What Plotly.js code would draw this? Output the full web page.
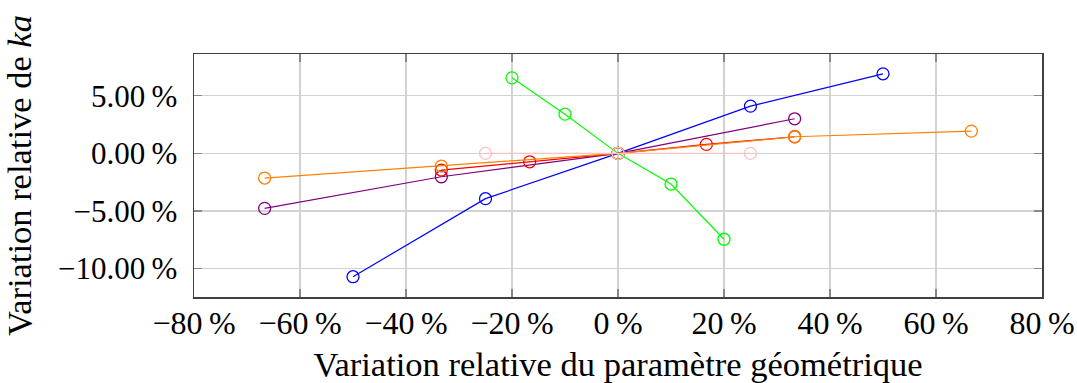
<!DOCTYPE html>
<html>
<head>
<meta charset="utf-8">
<script src="https://cdn.plot.ly/plotly-3.0.1.min.js"></script>
<style>html,body{margin:0;padding:0;background:#fff;}#chart{width:1077px;height:383px;}</style>
</head>
<body>
<div id="chart"></div>
<script>
// Data (percent)
const blueX   = [-50, -25, 0, 25, 50];
const blueY   = [-10.7, -3.93, 0, 4.10, 6.90];
const purpleX = [-66.67, -33.33, 0, 33.33];
const purpleY = [-4.77, -2.03, 0, 3.0];
const greenX  = [-20, -10, 0, 10, 20];
const greenY  = [6.55, 3.4, 0, -2.66, -7.45];
const redX    = [-33.33, -16.67, 0, 16.67, 33.33];
const redY    = [-1.45, -0.73, 0, 0.78, 1.44];
const orangeX = [-66.67, -33.33, 0, 33.33, 66.67];
const orangeY = [-2.14, -1.10, 0, 1.44, 1.93];
const pinkX   = [-25, 0, 25];
const pinkY   = [0.0, 0, 0.0];

const xTickVals = [-80, -60, -40, -20, 0, 20, 40, 60, 80];
const xTickText = ['\u221280\u2009%', '\u221260\u2009%', '\u221240\u2009%', '\u221220\u2009%', '0\u2009%', '20\u2009%', '40\u2009%', '60\u2009%', '80\u2009%'];
const yTickVals = [5, 0, -5, -10];
const yTickText = ['5.00\u2009%', '0.00\u2009%', '\u22125.00\u2009%', '\u221210.00\u2009%'];

const xTitle = 'Variation relative du paramètre géométrique';
const yTitle = 'Variation relative de <i>ka</i>';

function series(x, y, color) {
  return {
    x: x, y: y, type: 'scatter', mode: 'lines+markers',
    line: {color: color, width: 1.2},
    marker: {symbol: 'circle-open', size: 12, color: color, line: {color: color, width: 1.3}},
    showlegend: false, hoverinfo: 'skip'
  };
}

const data = [
  series(blueX, blueY, '#0000ff'),
  series(purpleX, purpleY, '#800080'),
  series(greenX, greenY, '#00ff00'),
  series(redX, redY, '#ff0000'),
  series(orangeX, orangeY, '#ff8000'),
  series(pinkX, pinkY, '#ffbfbf')
];

const fontFam = 'Liberation Serif';
const tickFont = {family: fontFam, size: 32, color: '#000'};
const yTickFont = {family: fontFam, size: 31, color: '#000'};
const titleFont = {family: fontFam, size: 34.5, color: '#000'};
const layout = {
  width: 1077, height: 383,
  margin: {l: 193.5, r: 35, t: 54, b: 86},
  paper_bgcolor: '#fff', plot_bgcolor: '#fff',
  font: {family: fontFam, size: 32, color: '#000'},
  xaxis: {
    range: [-80, 80], tickmode: 'array', tickvals: xTickVals, ticktext: xTickText,
    tickfont: tickFont,
    showgrid: true, gridcolor: '#d2d2d2', gridwidth: 1.5, zeroline: false,
    showline: true, linecolor: '#404040', linewidth: 1.5, mirror: 'all',
    ticks: 'inside', ticklen: 8, tickcolor: '#888', tickwidth: 1.5,
    ticklabelstandoff: -3,
    title: {text: xTitle, font: titleFont, standoff: 12},
    automargin: false
  },
  yaxis: {
    range: [-12.46, 8.62], tickmode: 'array', tickvals: yTickVals, ticktext: yTickText,
    tickfont: yTickFont,
    showgrid: true, gridcolor: '#d2d2d2', gridwidth: 1.5, zeroline: false,
    showline: true, linecolor: '#404040', linewidth: 1.5, mirror: 'all',
    ticks: 'inside', ticklen: 8, tickcolor: '#888', tickwidth: 1.5,
    ticklabelstandoff: 9,
    title: {text: yTitle, font: titleFont, standoff: 18},
    automargin: false
  }
};

Plotly.newPlot('chart', data, layout, {staticPlot: true, displayModeBar: false});
</script>
</body>
</html>
